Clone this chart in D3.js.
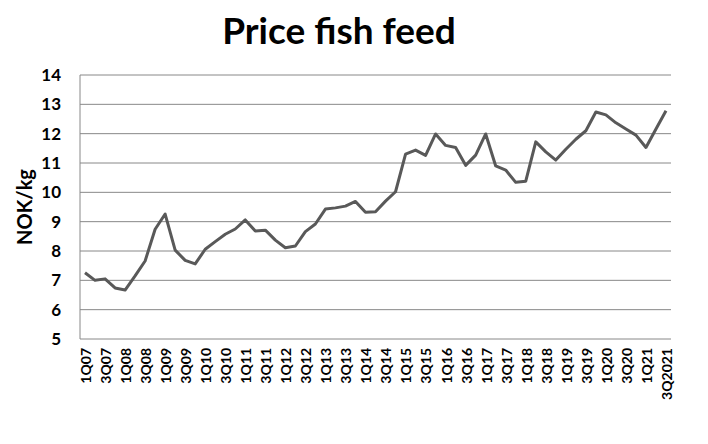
<!DOCTYPE html>
<html>
<head>
<meta charset="utf-8">
<script src="https://cdn.jsdelivr.net/npm/d3@7"></script>
<style>
  body { margin: 0; background: #fff; }
  text { font-family: Lato, "Open Sans", sans-serif; font-weight: bold; }
</style>
</head>
<body>
<svg id="chart" width="708" height="444"></svg>
<script>
// quarters 1Q07 .. 3Q21
const years = d3.range(2007, 2022);
const quarters = [];
years.forEach(y => {
    for (let q = 1; q <= 4; q++) {
        if (y === 2021 && q > 3) break;
        quarters.push(q + "Q" + String(y).slice(2));
    }
});

// NOK/kg
const prices = [
    7.26, 7.00, 7.05, 6.74, 6.67, 7.15, 7.66, 8.74, 9.26, 8.03,
    7.68, 7.56, 8.06, 8.32, 8.57, 8.75, 9.06, 8.68, 8.71, 8.37,
    8.11, 8.17, 8.66, 8.92, 9.43, 9.47, 9.53, 9.69, 9.32, 9.34,
    9.70, 10.02, 11.30, 11.44, 11.26, 11.99, 11.60, 11.53, 10.92, 11.27,
    11.99, 10.90, 10.76, 10.34, 10.38, 11.72, 11.38, 11.10, 11.47, 11.81,
    12.10, 12.74, 12.64, 12.37, 12.16, 11.95, 11.53, 12.16, 12.78
];

const yTicks = [5, 6, 7, 8, 9, 10, 11, 12, 13, 14];

let svg = d3.select("#chart");
let plotLeft = 80, plotRight = 671, plotTop = 75, plotBottom = 339;

let xScale = d3.scaleBand().domain(quarters).range([plotLeft, plotRight]);
let yScale = d3.scaleLinear().domain([5, 14]).range([plotBottom, plotTop]);

// Gridlines
svg.append("g")
    .selectAll("line")
    .data(yTicks)
    .enter()
    .append("line")
    .attr("x1", plotLeft)
    .attr("x2", plotRight)
    .attr("y1", d => yScale(d))
    .attr("y2", d => yScale(d))
    .attr("stroke", "#888888")
    .attr("stroke-width", 1);

// Left axis line
svg.append("line")
    .attr("x1", plotLeft).attr("x2", plotLeft)
    .attr("y1", plotTop).attr("y2", plotBottom)
    .attr("stroke", "#888888");

// Y-axis labels
let yAxis = svg.append("g")
    .attr("transform", `translate(${plotLeft}, 0)`)
    .call(d3.axisLeft(yScale).tickValues(yTicks).tickSize(0).tickPadding(19));
yAxis.select(".domain").remove();
yAxis.selectAll("text")
    .attr("font-size", 17)
    .attr("font-family", "Lato, sans-serif")
    .attr("fill", "#000");

// X-axis labels, every second quarter
let labels = quarters.map((q, i) => i === quarters.length - 1 ? "3Q2021" : q);
let xAxis = svg.append("g")
    .attr("transform", `translate(0, ${plotBottom})`)
    .call(d3.axisBottom(xScale)
        .tickValues(quarters.filter((q, i) => i % 2 === 0))
        .tickFormat(q => labels[quarters.indexOf(q)])
        .tickSize(0));
xAxis.select(".domain").remove();
xAxis.selectAll("text")
    .attr("font-size", 14)
    .attr("font-family", "Lato, sans-serif")
    .attr("fill", "#000")
    .attr("transform", "rotate(-90)")
    .attr("text-anchor", "end")
    .attr("x", -9)
    .attr("y", 1)
    .attr("dy", "0.35em");

// Line
let line = d3.line()
    .x((d, i) => xScale(quarters[i]) + xScale.bandwidth() / 2)
    .y(d => yScale(d));

svg.append("path")
    .datum(prices)
    .attr("fill", "none")
    .attr("stroke", "#595959")
    .attr("stroke-width", 3)
    .attr("stroke-linejoin", "round")
    .attr("d", line);

// Title
svg.append("text")
    .attr("x", 339)
    .attr("y", 44)
    .attr("text-anchor", "middle")
    .attr("font-size", 37)
    .text("Price fish feed");

// Y title
svg.append("text")
    .attr("transform", `translate(32, ${(plotTop + plotBottom) / 2}) rotate(-90)`)
    .attr("text-anchor", "middle")
    .attr("font-size", 20)
    .text("NOK/kg");
</script>
</body>
</html>
